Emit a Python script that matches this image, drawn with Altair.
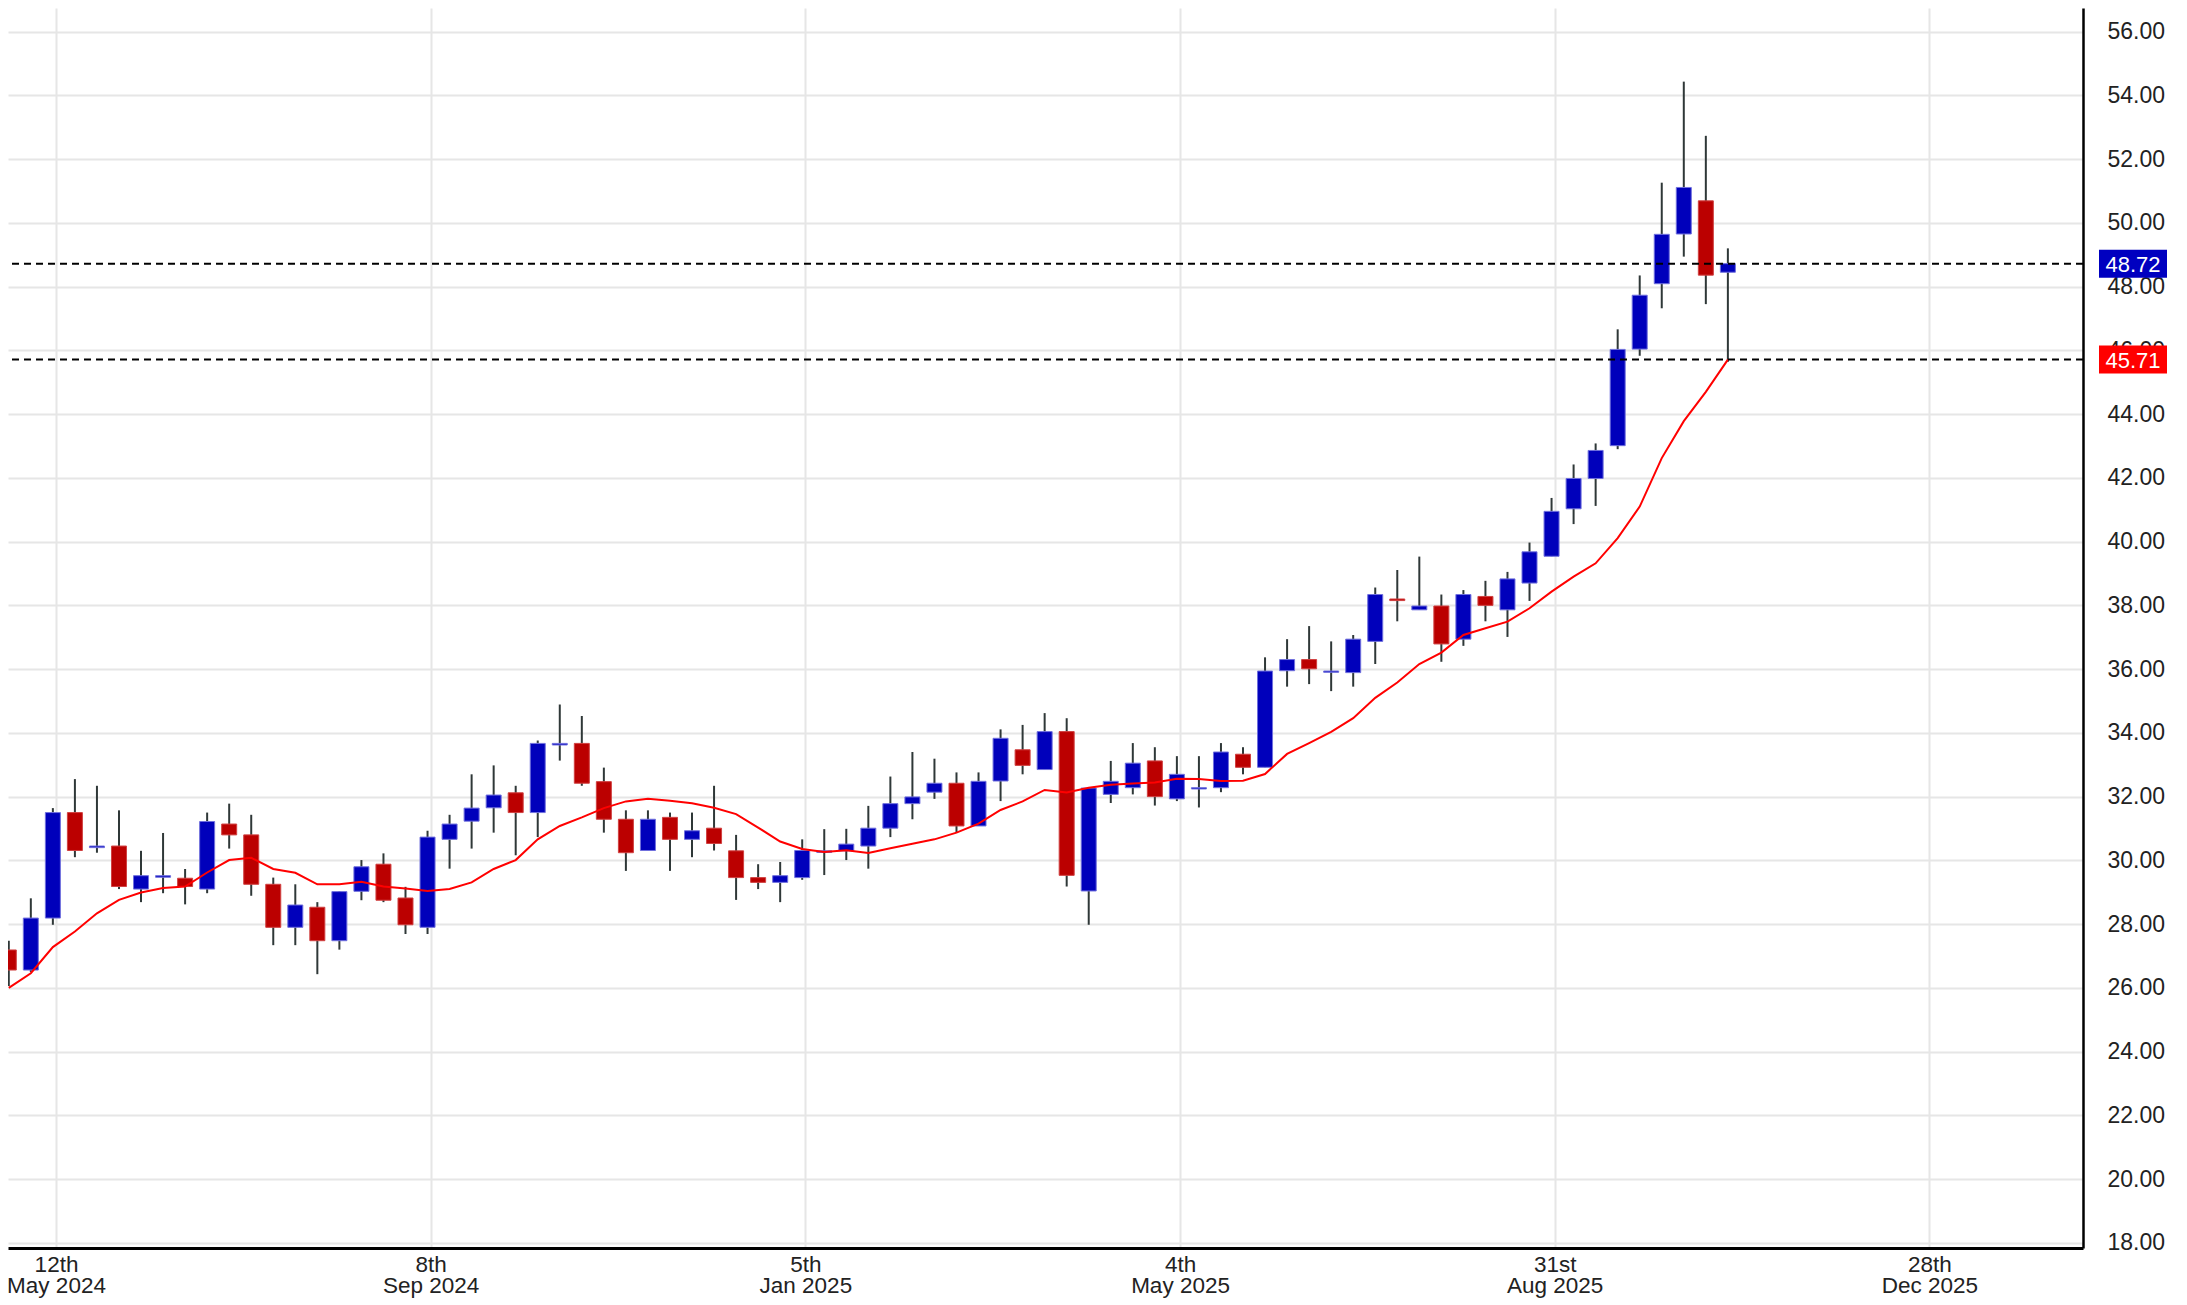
import altair as alt
import numpy as np
import pandas as pd

# Weekly candles (week dates)
dates = pd.date_range("2024-04-27", periods=79, freq="7D").strftime("%Y-%m-%d").tolist()

opens = [27.19, 26.56, 28.19, 31.50, 30.40, 30.45, 29.10, 29.47, 29.44, 29.10,
         31.14, 30.80, 29.25, 27.90, 28.53, 27.48, 29.03, 29.88, 28.82, 27.90,
         30.66, 31.23, 31.65, 32.12, 31.50, 33.62, 33.67, 32.47, 31.29, 30.31,
         31.35, 30.66, 31.01, 30.30, 29.46, 29.31, 29.46, 30.25, 30.30, 30.45,
         31.01, 31.78, 32.14, 32.42, 31.08, 32.49, 33.47, 32.85, 34.04, 29.04,
         32.07, 32.28, 33.12, 31.93, 32.24, 32.28, 33.33, 32.92, 35.95, 36.30,
         35.90, 35.89, 36.87, 38.20, 37.86, 37.98, 36.94, 38.28, 37.86, 38.70,
         39.54, 41.03, 41.98, 43.01, 46.04, 48.09, 49.65, 50.69, 48.45]

highs = [27.48, 28.81, 31.64, 32.55, 32.34, 31.57, 30.30, 30.86, 29.73, 31.50,
         31.78, 31.43, 29.46, 29.25, 28.69, 29.04, 30.01, 30.22, 29.17, 30.93,
         31.43, 32.70, 32.98, 32.34, 33.76, 34.89, 34.53, 32.91, 31.57, 31.57,
         31.50, 31.50, 32.34, 30.80, 29.88, 29.95, 30.66, 30.98, 30.99, 31.71,
         32.63, 33.40, 33.19, 32.76, 32.76, 34.11, 34.25, 34.62, 34.46, 32.27,
         33.12, 33.68, 33.55, 33.27, 33.27, 33.68, 33.55, 36.37, 36.94, 37.35,
         36.87, 37.07, 38.56, 39.11, 39.53, 38.34, 38.48, 38.77, 39.05, 39.97,
         41.37, 42.42, 43.08, 46.66, 48.35, 51.26, 54.43, 52.73, 49.20]

lows = [26.06, 26.50, 27.98, 30.10, 30.24, 29.10, 28.69, 28.97, 28.62, 28.97,
        30.37, 28.89, 27.34, 27.34, 26.43, 27.20, 28.75, 28.69, 27.69, 27.69,
        29.74, 30.37, 30.87, 30.16, 30.73, 33.13, 32.34, 30.87, 29.67, 30.31,
        29.67, 30.10, 30.31, 28.76, 29.10, 28.69, 29.39, 29.54, 30.01, 29.74,
        30.73, 31.29, 31.93, 30.87, 31.08, 31.86, 32.70, 32.85, 29.18, 27.98,
        31.80, 32.07, 31.72, 31.86, 31.66, 32.14, 32.70, 32.92, 35.45, 35.53,
        35.31, 35.45, 36.16, 37.50, 37.86, 36.23, 36.73, 37.50, 37.01, 38.14,
        39.54, 40.55, 41.12, 42.90, 45.83, 47.32, 48.94, 47.45, 45.64]

closes = [26.56, 28.19, 31.50, 30.31, 30.45, 29.18, 29.52, 29.52, 29.18, 31.22,
          30.80, 29.25, 27.90, 28.60, 27.48, 29.02, 29.80, 28.75, 27.98, 30.73,
          31.14, 31.64, 32.05, 31.50, 33.67, 33.67, 32.42, 31.29, 30.24, 31.29,
          30.66, 30.93, 30.53, 29.46, 29.31, 29.52, 30.31, 30.30, 30.51, 31.01,
          31.78, 31.99, 32.42, 31.08, 32.48, 33.83, 32.98, 34.04, 29.53, 32.27,
          32.48, 33.05, 32.00, 32.70, 32.28, 33.40, 32.92, 35.94, 36.30, 36.01,
          35.94, 36.94, 38.34, 38.15, 37.98, 36.79, 38.34, 38.00, 38.83, 39.68,
          40.95, 41.98, 42.86, 46.03, 47.73, 49.64, 51.11, 48.36, 48.72]

ma10 = [26.00, 26.46, 27.28, 27.77, 28.34, 28.76, 28.99, 29.13, 29.18, 29.62,
        30.01, 30.08, 29.73, 29.61, 29.25, 29.25, 29.33, 29.18, 29.12, 29.04,
        29.10, 29.31, 29.73, 30.01, 30.66, 31.08, 31.35, 31.64, 31.85, 31.93,
        31.87, 31.79, 31.65, 31.45, 31.03, 30.59, 30.36, 30.26, 30.32, 30.23,
        30.38, 30.52, 30.66, 30.87, 31.15, 31.58, 31.85, 32.21, 32.13, 32.28,
        32.37, 32.41, 32.44, 32.56, 32.55, 32.49, 32.50, 32.71, 33.34, 33.68,
        34.03, 34.46, 35.10, 35.58, 36.16, 36.52, 37.07, 37.28, 37.49, 37.91,
        38.43, 38.90, 39.32, 40.11, 41.10, 42.62, 43.78, 44.70, 45.71]

last_price = 48.72
ma_last = 45.71

y_ticks = list(range(18, 58, 2))
x_tick_dates = [(2024, 5, 12), (2024, 9, 8), (2025, 1, 5), (2025, 5, 4), (2025, 8, 31), (2025, 12, 28)]

UP = "#0000bb"
DOWN = "#bb0000"
FONT = "Liberation Sans"

df = pd.DataFrame({"date": dates, "open": opens, "high": highs, "low": lows,
                   "close": closes, "ma": ma10})
df["dir"] = np.where(df["close"] >= df["open"], "up", "down")

x_enc = alt.X(
    "date:T",
    title=None,
    scale=alt.Scale(
        type="utc",
        padding=0,
        domain=[alt.DateTime(year=2024, month=4, date=26, hours=18, utc=True),
                alt.DateTime(year=2026, month=2, date=14, hours=19, utc=True)],
    ),
    axis=alt.Axis(
        orient="bottom",
        values=[alt.DateTime(year=y, month=m, date=d, utc=True) for (y, m, d) in x_tick_dates],
        labelExpr=(
            "[utcdate(datum.value) + "
            "(utcdate(datum.value) % 10 == 1 && utcdate(datum.value) != 11 ? 'st' : "
            "utcdate(datum.value) % 10 == 2 && utcdate(datum.value) != 12 ? 'nd' : "
            "utcdate(datum.value) % 10 == 3 && utcdate(datum.value) != 13 ? 'rd' : 'th'), "
            "utcFormat(datum.value, '%b %Y')]"
        ),
        labelFont=FONT, labelFontSize=22.5, labelColor="#222222",
        labelLineHeight=21.5, labelPadding=5, labelAlign="center", labelBaseline="top",
        labelOverlap=False, labelBound=False, labelFlush=False,
        ticks=False, tickSize=0,
        domainColor="#000000", domainWidth=3,
        grid=True, gridColor="#e6e6e6", gridWidth=2,
    ),
)

y_scale = alt.Scale(domain=[17.84, 56.74], nice=False, zero=False, padding=0)
y_axis = alt.Axis(
    orient="right", values=y_ticks, format=".2f",
    labelFont=FONT, labelFontSize=23, labelColor="#222222",
    labelPadding=24, labelAlign="left", labelOverlap=False, labelBound=False, labelFlush=False,
    ticks=False, tickSize=0,
    domainColor="#000000", domainWidth=2.5,
    grid=True, gridColor="#e6e6e6", gridWidth=2,
)

base = alt.Chart(df).encode(x=x_enc)

wicks = base.mark_rule(color="#2f3838", strokeWidth=2, clip=True).encode(
    y=alt.Y("low:Q", scale=y_scale, axis=y_axis, title=None),
    y2="high:Q",
)

bodies = base.mark_bar(size=15, strokeWidth=1, clip=True).encode(
    y=alt.Y("open:Q", title=None),
    y2="close:Q",
    color=alt.Color("dir:N", scale=alt.Scale(domain=["up", "down"], range=[UP, DOWN]), legend=None),
    stroke=alt.Stroke("dir:N", scale=alt.Scale(domain=["up", "down"], range=["#7070dd", "#d04040"]), legend=None),
)

ma_line = base.mark_line(color="#ff0000", strokeWidth=2, clip=True).encode(
    y=alt.Y("ma:Q", title=None),
)

levels = pd.DataFrame({"level": [last_price, ma_last]})
level_rules = alt.Chart(levels).mark_rule(color="#000000", strokeWidth=2, strokeDash=[7, 5]).encode(
    y=alt.Y("level:Q", title=None),
)

def price_tag(value, fill):
    d = pd.DataFrame({"level": [value], "label": [f"{value:.2f}"]})
    box = alt.Chart(d).mark_tick(orient="horizontal", size=68, thickness=28, color=fill, opacity=1).encode(
        x=alt.value(2125), y=alt.Y("level:Q", title=None),
    )
    txt = alt.Chart(d).mark_text(color="#ffffff", font=FONT, fontSize=22, align="center", baseline="middle", dy=1).encode(
        x=alt.value(2125), y=alt.Y("level:Q", title=None), text="label:N",
    )
    return box + txt

chart = alt.layer(
    wicks, bodies, ma_line, level_rules,
    price_tag(last_price, "#0000c0"), price_tag(ma_last, "#ff0000"),
).properties(
    width=2075, height=1240,
    autosize=alt.AutoSizeParams(type="none"),
    padding={"left": 0, "top": 0, "right": 92, "bottom": 50},
).configure(
    background="#ffffff",
    view=alt.ViewConfig(stroke="transparent", strokeWidth=0),
)

chart.save("out.html", embed_options={"renderer": "svg", "actions": False})
